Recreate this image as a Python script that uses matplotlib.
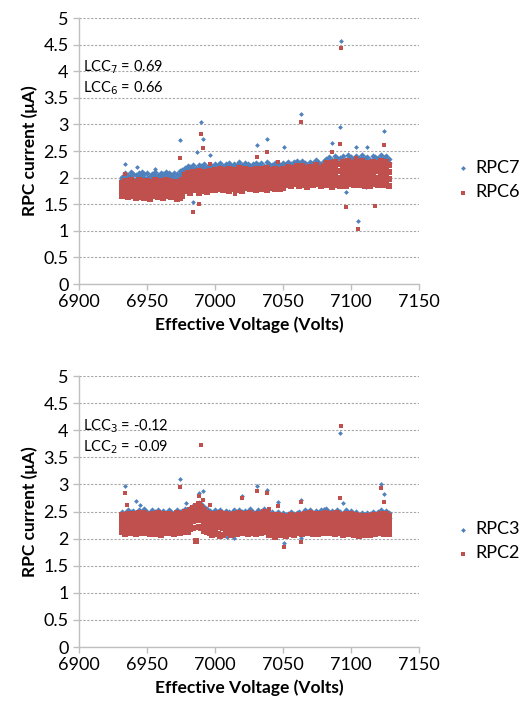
import numpy as np
import matplotlib.pyplot as plt

# effective voltage of each reading column (Volts)
volts = [6932, 6934, 6936, 6938, 6940, 6942, 6944, 6946, 6948, 6950,
         6952, 6954, 6956, 6958, 6960, 6962, 6964, 6966, 6968, 6970,
         6972, 6974, 6976, 6978, 6980, 6982, 6984, 6986, 6988, 6990,
         6992, 6994, 6996, 6998, 7000, 7002, 7004, 7006, 7008, 7010,
         7012, 7014, 7016, 7018, 7020, 7022, 7024, 7026, 7028, 7030,
         7032, 7034, 7036, 7038, 7040, 7042, 7044, 7046, 7048, 7050,
         7052, 7054, 7056, 7058, 7060, 7062, 7064, 7066, 7068, 7070,
         7072, 7074, 7076, 7078, 7080, 7082, 7084, 7086, 7088, 7090,
         7092, 7094, 7096, 7098, 7100, 7102, 7104, 7106, 7108, 7110,
         7112, 7114, 7116, 7118, 7120, 7122, 7124, 7126, 7128]

# ---- top panel: RPC7 (blue) / RPC6 (red), currents in uA ----
rpc7_a = [2.02, 2.08, 2.05, 2.10, 2.07, 2.04, 2.09, 2.11, 2.06, 2.08,
          2.03, 2.07, 2.10, 2.05, 2.09, 2.06, 2.11, 2.08, 2.04, 2.09,
          2.06, 2.12, 2.15, 2.18, 2.22, 2.20, 2.24, 2.19, 2.23, 2.21,
          2.25, 2.20, 2.24, 2.22, 2.26, 2.23, 2.27, 2.21, 2.25, 2.28,
          2.22, 2.26, 2.24, 2.29, 2.23, 2.27, 2.25, 2.21, 2.26, 2.28,
          2.24, 2.27, 2.22, 2.29, 2.25, 2.23, 2.28, 2.26, 2.24, 2.27,
          2.26, 2.30, 2.25, 2.29, 2.32, 2.27, 2.31, 2.28, 2.24, 2.30,
          2.27, 2.33, 2.29, 2.26, 2.31, 2.35, 2.39, 2.33, 2.41, 2.37,
          2.36, 2.40, 2.34, 2.42, 2.38, 2.35, 2.40, 2.37, 2.43, 2.36,
          2.39, 2.34, 2.41, 2.38, 2.36, 2.42, 2.37, 2.40, 2.35]
rpc7_b = [1.97, 2.01, 1.99, 2.03, 1.98, 1.96, 2.02, 2.04, 1.99, 2.00,
          1.97, 2.00, 2.03, 1.98, 2.02, 1.99, 2.04, 2.01, 1.98, 2.02,
          1.99, 2.05, 2.08, 2.11, 2.15, 2.13, 2.17, 2.12, 2.16, 2.14,
          2.18, 2.13, 2.17, 2.15, 2.19, 2.16, 2.20, 2.14, 2.18, 2.21,
          2.15, 2.19, 2.17, 2.22, 2.16, 2.20, 2.18, 2.14, 2.19, 2.21,
          2.17, 2.20, 2.15, 2.22, 2.18, 2.16, 2.21, 2.19, 2.17, 2.20,
          2.19, 2.23, 2.18, 2.22, 2.25, 2.20, 2.24, 2.21, 2.17, 2.23,
          2.20, 2.26, 2.22, 2.19, 2.24, 2.28, 2.32, 2.26, 2.34, 2.30,
          2.29, 2.33, 2.27, 2.35, 2.31, 2.28, 2.33, 2.30, 2.36, 2.29,
          2.32, 2.27, 2.34, 2.31, 2.29, 2.35, 2.30, 2.33, 2.28]
rpc6_a = [1.90, 1.94, 1.88, 1.95, 1.92, 1.89, 1.96, 1.93, 1.90, 1.94,
          1.87, 1.92, 1.95, 1.91, 1.94, 1.89, 1.96, 1.93, 1.90, 1.92,
          1.88, 1.91, 1.95, 2.05, 2.09, 2.03, 2.10, 2.07, 2.12, 2.06,
          2.11, 2.08, 2.13, 2.09, 2.14, 2.12, 2.16, 2.10, 2.14, 2.17,
          2.11, 2.15, 2.13, 2.18, 2.12, 2.16, 2.14, 2.10, 2.15, 2.17,
          2.13, 2.16, 2.11, 2.18, 2.14, 2.12, 2.17, 2.15, 2.13, 2.16,
          2.16, 2.20, 2.14, 2.19, 2.22, 2.17, 2.21, 2.18, 2.13, 2.20,
          2.17, 2.23, 2.19, 2.15, 2.21, 2.24, 2.28, 2.22, 2.30, 2.26,
          2.25, 2.29, 2.23, 2.31, 2.27, 2.24, 2.29, 2.26, 2.32, 2.25,
          2.28, 2.23, 2.30, 2.27, 2.25, 2.31, 2.26, 2.29, 2.24]
rpc6_b = [1.82, 1.85, 1.80, 1.86, 1.83, 1.79, 1.87, 1.84, 1.81, 1.85,
          1.78, 1.83, 1.86, 1.82, 1.85, 1.80, 1.87, 1.84, 1.81, 1.83,
          1.79, 1.82, 1.86, 1.96, 2.00, 1.94, 2.01, 1.98, 2.03, 1.97,
          2.02, 1.99, 2.04, 2.00, 2.05, 2.00, 2.04, 1.98, 2.02, 2.05,
          1.99, 2.03, 2.01, 2.06, 2.00, 2.04, 2.02, 1.98, 2.03, 2.05,
          2.01, 2.04, 1.99, 2.06, 2.02, 2.00, 2.05, 2.03, 2.01, 2.04,
          2.08, 2.12, 2.06, 2.11, 2.14, 2.09, 2.13, 2.10, 2.05, 2.12,
          2.09, 2.15, 2.11, 2.07, 2.13, 2.11, 2.15, 2.09, 2.17, 2.13,
          2.12, 2.16, 2.10, 2.18, 2.14, 2.11, 2.16, 2.13, 2.19, 2.12,
          2.15, 2.10, 2.17, 2.14, 2.12, 2.18, 2.13, 2.16, 2.11]
rpc6_c = [1.74, 1.76, 1.72, 1.77, 1.74, 1.71, 1.78, 1.75, 1.72, 1.76,
          1.70, 1.74, 1.77, 1.73, 1.76, 1.72, 1.78, 1.75, 1.73, 1.74,
          1.70, 1.73, 1.77, 1.83, 1.87, 1.81, 1.88, 1.85, 1.90, 1.84,
          1.89, 1.86, 1.91, 1.87, 1.92, 1.88, 1.92, 1.86, 1.90, 1.93,
          1.87, 1.91, 1.89, 1.94, 1.88, 1.92, 1.90, 1.86, 1.91, 1.93,
          1.89, 1.92, 1.87, 1.94, 1.90, 1.88, 1.93, 1.91, 1.89, 1.92,
          1.96, 1.99, 1.94, 1.98, 2.01, 1.96, 2.00, 1.97, 1.93, 1.99,
          1.96, 2.02, 1.98, 1.95, 2.00, 1.97, 2.01, 1.95, 2.03, 1.99,
          1.98, 2.02, 1.96, 2.04, 2.00, 1.97, 2.02, 1.99, 2.05, 1.98,
          2.01, 1.96, 2.03, 2.00, 1.98, 2.04, 1.99, 2.02, 1.97]
rpc6_d = [1.66, 1.68, 1.63, 1.69, 1.65, 1.62, 1.67, 1.64, 1.61, 1.66,
          1.60, 1.65, 1.68, 1.63, 1.67, 1.62, 1.69, 1.66, 1.64, 1.65,
          1.60, 1.62, 1.66, 1.74, 1.78, 1.72, 1.79, 1.76, 1.71, 1.75,
          1.80, 1.73, 1.77, 1.79, 1.76, 1.78, 1.82, 1.76, 1.80, 1.74,
          1.79, 1.83, 1.77, 1.81, 1.75, 1.80, 1.84, 1.78, 1.82, 1.76,
          1.81, 1.79, 1.83, 1.77, 1.80, 1.84, 1.78, 1.82, 1.79, 1.81,
          1.86, 1.89, 1.84, 1.88, 1.91, 1.85, 1.90, 1.87, 1.83, 1.89,
          1.86, 1.92, 1.88, 1.85, 1.90, 1.86, 1.90, 1.83, 1.92, 1.87,
          1.85, 1.91, 1.84, 1.93, 1.88, 1.86, 1.91, 1.87, 1.94, 1.85,
          1.90, 1.84, 1.92, 1.88, 1.86, 1.93, 1.87, 1.91, 1.85]
rpc7_out_v = [6934, 6943, 6956, 6974, 6984, 6987, 6990, 6991, 6996, 7031, 7038,
              7051, 7063, 7086, 7092, 7093, 7096, 7104, 7105, 7111, 7112, 7124]
rpc7_out_i = [2.25, 2.20, 2.17, 2.70, 1.54, 2.48, 3.05, 2.72, 2.42, 2.62, 2.72,
              2.58, 3.20, 2.65, 2.95, 4.56, 1.73, 2.58, 1.18, 1.83, 2.58, 2.87]
rpc6_out_v = [6934, 6972, 6975, 6974, 6984, 6988, 6990, 6991, 6996, 7015, 7031, 7038,
              7046, 7063, 7082, 7086, 7092, 7093, 7096, 7104, 7105, 7118, 7124]
rpc6_out_i = [2.07, 1.60, 1.61, 2.36, 1.35, 1.50, 2.82, 2.55, 2.25, 1.70, 2.38, 2.48,
              2.30, 3.05, 2.30, 2.48, 2.64, 4.43, 1.45, 2.37, 1.03, 1.47, 2.61]

# ---- bottom panel: RPC3 (blue) / RPC2 (red) ----
rpc3_a = [2.50, 2.47, 2.53, 2.49, 2.51, 2.46, 2.52, 2.48, 2.54, 2.50,
          2.47, 2.52, 2.49, 2.53, 2.46, 2.51, 2.48, 2.52, 2.50, 2.47,
          2.53, 2.49, 2.51, 2.55, 2.52, 2.57, 2.60, 2.62, 2.65, 2.63,
          2.58, 2.54, 2.51, 2.48, 2.52, 2.49, 2.53, 2.47, 2.51, 2.50,
          2.46, 2.52, 2.48, 2.53, 2.49, 2.51, 2.47, 2.54, 2.50, 2.48,
          2.52, 2.49, 2.55, 2.51, 2.47, 2.50, 2.46, 2.49, 2.44, 2.47,
          2.43, 2.46, 2.49, 2.45, 2.48, 2.50, 2.46, 2.52, 2.49, 2.53,
          2.48, 2.51, 2.47, 2.52, 2.50, 2.54, 2.49, 2.51, 2.47, 2.53,
          2.50, 2.46, 2.52, 2.48, 2.51, 2.45, 2.49, 2.43, 2.47, 2.44,
          2.48, 2.45, 2.50, 2.46, 2.49, 2.52, 2.48, 2.51, 2.47]
rpc3_b = [2.41, 2.39, 2.44, 2.40, 2.43, 2.37, 2.42, 2.40, 2.45, 2.41,
          2.38, 2.43, 2.40, 2.44, 2.38, 2.42, 2.39, 2.43, 2.41, 2.38,
          2.44, 2.40, 2.42, 2.46, 2.44, 2.49, 2.52, 2.55, 2.57, 2.54,
          2.50, 2.45, 2.42, 2.40, 2.44, 2.41, 2.45, 2.38, 2.42, 2.41,
          2.37, 2.43, 2.39, 2.44, 2.40, 2.42, 2.38, 2.45, 2.41, 2.39,
          2.43, 2.40, 2.46, 2.42, 2.38, 2.41, 2.37, 2.40, 2.35, 2.38,
          2.34, 2.37, 2.40, 2.36, 2.39, 2.41, 2.37, 2.43, 2.40, 2.44,
          2.39, 2.42, 2.38, 2.43, 2.41, 2.45, 2.40, 2.42, 2.38, 2.44,
          2.41, 2.37, 2.43, 2.39, 2.42, 2.36, 2.40, 2.34, 2.38, 2.35,
          2.39, 2.36, 2.41, 2.37, 2.40, 2.43, 2.39, 2.42, 2.38]
rpc2_a = [2.44, 2.40, 2.46, 2.42, 2.45, 2.39, 2.47, 2.43, 2.48, 2.44,
          2.41, 2.46, 2.42, 2.47, 2.40, 2.45, 2.43, 2.46, 2.44, 2.41,
          2.47, 2.43, 2.45, 2.49, 2.47, 2.52, 2.56, 2.60, 2.63, 2.59,
          2.53, 2.48, 2.45, 2.42, 2.46, 2.43, 2.47, 2.41, 2.45, 2.44,
          2.40, 2.46, 2.42, 2.47, 2.43, 2.45, 2.41, 2.48, 2.44, 2.42,
          2.46, 2.43, 2.49, 2.45, 2.41, 2.44, 2.40, 2.43, 2.38, 2.41,
          2.37, 2.40, 2.43, 2.39, 2.42, 2.44, 2.40, 2.46, 2.43, 2.47,
          2.42, 2.45, 2.41, 2.46, 2.44, 2.48, 2.43, 2.45, 2.41, 2.47,
          2.44, 2.40, 2.46, 2.42, 2.45, 2.39, 2.43, 2.37, 2.41, 2.38,
          2.42, 2.39, 2.44, 2.40, 2.43, 2.46, 2.42, 2.45, 2.41]
rpc2_b = [2.34, 2.31, 2.36, 2.33, 2.35, 2.30, 2.37, 2.33, 2.38, 2.34,
          2.31, 2.36, 2.32, 2.37, 2.30, 2.35, 2.33, 2.36, 2.34, 2.31,
          2.37, 2.33, 2.35, 2.39, 2.37, 2.42, 2.45, 2.48, 2.50, 2.47,
          2.42, 2.38, 2.35, 2.32, 2.36, 2.33, 2.37, 2.31, 2.35, 2.34,
          2.30, 2.36, 2.32, 2.37, 2.33, 2.35, 2.31, 2.38, 2.34, 2.32,
          2.36, 2.33, 2.39, 2.35, 2.31, 2.34, 2.30, 2.33, 2.29, 2.32,
          2.28, 2.31, 2.34, 2.30, 2.33, 2.35, 2.31, 2.36, 2.33, 2.37,
          2.32, 2.35, 2.31, 2.36, 2.34, 2.38, 2.33, 2.35, 2.31, 2.37,
          2.34, 2.30, 2.36, 2.32, 2.35, 2.29, 2.33, 2.28, 2.31, 2.29,
          2.32, 2.30, 2.34, 2.31, 2.33, 2.36, 2.32, 2.35, 2.31]
rpc2_c = [2.23, 2.21, 2.25, 2.22, 2.24, 2.20, 2.26, 2.22, 2.27, 2.23,
          2.20, 2.25, 2.21, 2.26, 2.19, 2.24, 2.22, 2.25, 2.23, 2.20,
          2.26, 2.22, 2.24, 2.27, 2.25, 2.29, 2.33, 2.35, 2.37, 2.34,
          2.30, 2.26, 2.24, 2.21, 2.25, 2.22, 2.26, 2.20, 2.24, 2.23,
          2.19, 2.25, 2.21, 2.26, 2.22, 2.24, 2.20, 2.27, 2.23, 2.21,
          2.25, 2.22, 2.28, 2.24, 2.20, 2.23, 2.19, 2.22, 2.18, 2.21,
          2.17, 2.20, 2.23, 2.19, 2.22, 2.24, 2.20, 2.25, 2.22, 2.26,
          2.21, 2.24, 2.20, 2.25, 2.23, 2.27, 2.22, 2.24, 2.20, 2.26,
          2.23, 2.19, 2.25, 2.21, 2.24, 2.18, 2.22, 2.17, 2.20, 2.18,
          2.21, 2.19, 2.23, 2.20, 2.22, 2.25, 2.21, 2.24, 2.20]
rpc2_d = [2.12, 2.09, 2.14, 2.10, 2.13, 2.08, 2.15, 2.11, 2.14, 2.10,
          2.08, 2.13, 2.09, 2.14, 2.07, 2.12, 2.10, 2.13, 2.11, 2.08,
          2.14, 2.10, 2.12, 2.15, 2.13, 2.17, 2.20, 1.95, 2.22, 2.19,
          2.15, 2.12, 2.10, 2.06, 2.11, 2.08, 2.05, 2.07, 2.12, 2.10,
          2.06, 2.13, 2.09, 2.14, 2.10, 2.12, 2.08, 2.15, 2.11, 2.09,
          2.13, 2.10, 2.16, 2.12, 2.07, 2.11, 2.03, 2.09, 2.06, 2.10,
          2.05, 2.08, 2.11, 2.07, 2.10, 2.12, 2.08, 2.13, 2.10, 2.14,
          2.09, 2.12, 2.08, 2.13, 2.11, 2.15, 2.10, 2.12, 2.08, 2.14,
          2.11, 2.07, 2.13, 2.09, 2.12, 2.06, 2.10, 2.05, 2.08, 2.06,
          2.09, 2.07, 2.11, 2.08, 2.10, 2.13, 2.09, 2.12, 2.08]
rpc3_out_v = [6934, 6942, 6945, 6974, 6979, 6983, 6988, 6991, 7009, 7014, 7020,
              7031, 7038, 7046, 7051, 7063, 7063, 7080, 7092, 7094, 7122, 7124]
rpc3_out_i = [2.97, 2.70, 2.62, 3.10, 2.65, 2.58, 2.85, 2.88, 2.03, 2.02, 2.78,
              2.98, 2.90, 2.67, 1.92, 2.02, 2.72, 2.55, 3.95, 2.65, 3.00, 2.82]
rpc2_out_v = [6934, 6935, 6974, 6988, 6990, 6991, 6996, 7020, 7031, 7038,
              7040, 7046, 7051, 7063, 7063, 7092, 7093, 7122, 7124]
rpc2_out_i = [2.85, 2.62, 2.95, 2.78, 3.72, 2.72, 2.62, 2.75, 2.88, 2.85,
              2.55, 2.60, 1.85, 1.93, 2.68, 2.75, 4.07, 2.93, 2.68]

BLUE = '#4F81BD'
RED = '#C0504D'

plt.rcParams['font.family'] = ['Lato', 'DejaVu Sans']

fig = plt.figure(figsize=(5.29, 7.09), dpi=100)
ax1 = fig.add_axes([0.1493, 0.5994, 0.6427, 0.3752])
ax2 = fig.add_axes([0.1493, 0.0874, 0.6427, 0.3822])


def panel(ax, blue_layers, red_layers, blue_out, red_out, names, lcc):
    for ys in blue_layers:
        ax.scatter(volts, ys, marker='D', s=10, color=BLUE, linewidths=0, zorder=3)
    hb = ax.scatter(blue_out[0], blue_out[1], marker='D', s=6, color=BLUE, linewidths=0, zorder=3)
    for ys in red_layers:
        ax.scatter(volts, ys, marker='s', s=20, color=RED, linewidths=0, zorder=4)
    hr = ax.scatter(red_out[0], red_out[1], marker='s', s=11, color=RED, linewidths=0, zorder=4)

    ax.set_xlim(6900, 7150)
    ax.set_ylim(0, 5)
    ax.set_xticks([6900, 6950, 7000, 7050, 7100, 7150])
    ax.set_yticks(np.arange(0, 5.01, 0.5))
    ax.set_yticklabels(['0', '0.5', '1', '1.5', '2', '2.5', '3', '3.5', '4', '4.5', '5'])
    ax.yaxis.grid(True, linestyle=(0, (2, 1.5)), color='#a6a6a6', linewidth=0.8)
    ax.set_axisbelow(True)
    for side in ['top', 'right']:
        ax.spines[side].set_visible(False)
    for side in ['left', 'bottom']:
        ax.spines[side].set_color('#bfbfbf')
        ax.spines[side].set_linewidth(1.0)
    ax.tick_params(axis='both', colors='#bfbfbf', labelcolor='black', labelsize=13,
                   length=4, width=1.0, direction='out')
    ax.set_xlabel('Effective Voltage (Volts)', fontsize=12.5, fontweight='bold', labelpad=4)
    ax.set_ylabel('RPC current (\u03bcA)', fontsize=12.5, fontweight='bold', labelpad=4)

    ax.text(6903, 4.08, lcc[0], fontsize=10.5, va='center', ha='left')
    ax.text(6903, 3.68, lcc[1], fontsize=10.5, va='center', ha='left')

    ax.legend([hb, hr], names, loc='center left', bbox_to_anchor=(1.06, 0.39),
              frameon=False, fontsize=13, handletextpad=0.3, handlelength=0.8,
              labelspacing=0.45, markerscale=1.0)


panel(ax1, [rpc7_a, rpc7_b], [rpc6_a, rpc6_b, rpc6_c, rpc6_d],
      (rpc7_out_v, rpc7_out_i), (rpc6_out_v, rpc6_out_i),
      ['RPC7', 'RPC6'], [r'LCC$_7$ = 0.69', r'LCC$_6$ = 0.66'])
panel(ax2, [rpc3_a, rpc3_b], [rpc2_a, rpc2_b, rpc2_c, rpc2_d],
      (rpc3_out_v, rpc3_out_i), (rpc2_out_v, rpc2_out_i),
      ['RPC3', 'RPC2'], [r'LCC$_3$ = -0.12', r'LCC$_2$ = -0.09'])

fig.savefig('out.png', dpi=100)
